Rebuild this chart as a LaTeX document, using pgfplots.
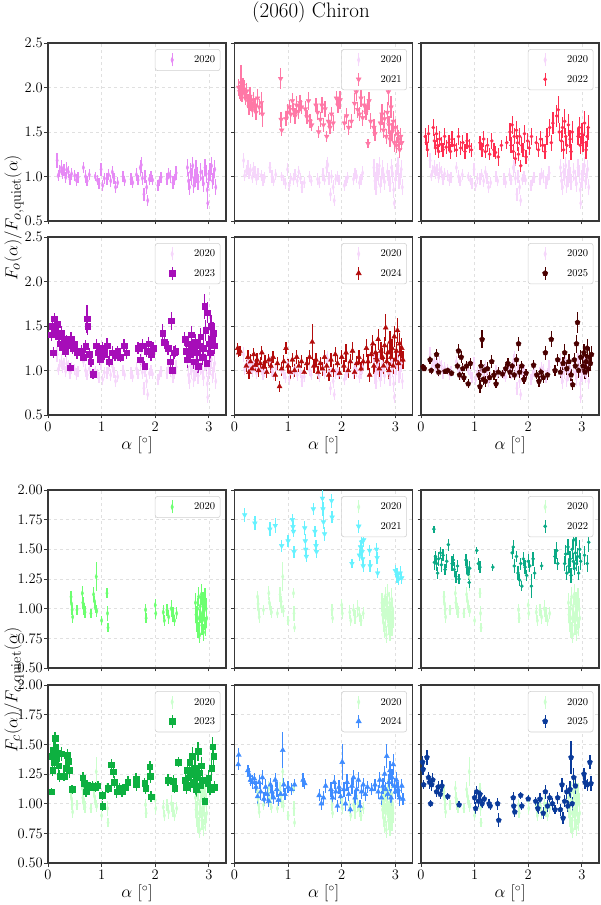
\documentclass[border=0pt]{standalone}
\usepackage{pgfplots}
\usepackage{pgfplotstable}
\pgfplotsset{compat=1.18}
\usetikzlibrary{plotmarks}
\pgfplotsset{error bars/draw error bar/.code 2 args={\draw[line width=1.3pt] #1 -- #2;}}

\definecolor{oa}{RGB}{230,137,245}
\definecolor{ob}{RGB}{255,120,166}
\definecolor{oc}{RGB}{255,45,80}
\definecolor{od}{RGB}{166,13,184}
\definecolor{oe}{RGB}{179,12,12}
\definecolor{of}{RGB}{74,0,0}
\definecolor{ca}{RGB}{108,255,112}
\definecolor{cb}{RGB}{102,242,255}
\definecolor{cc}{RGB}{10,170,133}
\definecolor{cd}{RGB}{13,176,64}
\definecolor{ce}{RGB}{63,140,255}
\definecolor{cf}{RGB}{10,58,154}
\colorlet{oaF}{oa!35!white}
\colorlet{caF}{ca!35!white}

\tikzset{
 sA/.style={mark=diamond*, mark size=2.9pt, mark options={xscale=0.55}},
 sB/.style={mark=triangle*, mark size=2.7pt, mark options={rotate=180}},
 sC/.style={mark=*, mark size=1.6pt},
 sD/.style={mark=square*, mark size=2.8pt},
 sE/.style={mark=triangle*, mark size=2.9pt},
 sF/.style={mark=pentagon*, mark size=2.7pt},
}

\pgfplotstableread{
x y e
0.17 1.18 0.08
0.19 1.01 0.06
0.22 1.06 0.07
0.25 1.10 0.08
0.27 1.03 0.06
0.30 1.07 0.07
0.33 0.99 0.06
0.35 1.08 0.08
0.38 1.05 0.07
0.41 0.97 0.06
0.44 1.03 0.07
0.50 1.01 0.06
0.53 0.96 0.07
0.56 0.99 0.06
0.66 1.10 0.06
0.70 1.00 0.07
0.73 0.95 0.06
0.77 1.02 0.06
0.88 1.00 0.05
0.92 0.96 0.06
0.95 0.92 0.06
0.99 1.08 0.07
1.02 0.90 0.06
1.05 0.98 0.06
1.10 0.97 0.07
1.13 1.02 0.06
1.17 0.95 0.07
1.20 1.05 0.07
1.23 0.98 0.06
1.26 0.88 0.07
1.30 0.93 0.06
1.40 1.00 0.06
1.43 0.95 0.06
1.55 0.97 0.07
1.58 0.93 0.06
1.65 1.02 0.07
1.68 0.96 0.06
1.72 1.10 0.09
1.74 1.13 0.09
1.76 0.98 0.07
1.79 0.80 0.07
1.81 1.00 0.07
1.84 0.88 0.08
1.86 0.73 0.06
1.89 0.97 0.06
1.92 1.00 0.06
1.95 0.96 0.06
2.05 0.90 0.06
2.08 0.95 0.06
2.11 0.99 0.06
2.22 0.97 0.07
2.25 1.03 0.06
2.28 1.00 0.07
2.33 0.93 0.07
2.36 0.97 0.06
2.39 1.04 0.08
2.60 1.10 0.10
2.62 0.95 0.10
2.64 0.88 0.09
2.66 1.05 0.10
2.68 1.00 0.09
2.70 1.12 0.10
2.72 0.90 0.09
2.74 0.98 0.10
2.76 1.08 0.10
2.78 1.02 0.09
2.80 0.94 0.09
2.85 1.05 0.10
2.88 0.98 0.09
2.90 0.92 0.09
2.93 1.10 0.10
2.95 1.03 0.10
2.97 0.85 0.09
2.98 0.70 0.06
3.00 0.97 0.10
3.02 1.05 0.10
3.05 1.12 0.10
3.07 0.95 0.09
3.09 1.00 0.10
3.11 1.08 0.10
3.13 0.88 0.09
}\oA

\pgfplotstableread{
x y e
0.08 2.00 0.10
0.10 1.95 0.08
0.12 2.05 0.20
0.14 1.92 0.08
0.16 2.02 0.09
0.18 1.98 0.10
0.20 1.88 0.08
0.23 1.96 0.09
0.25 1.85 0.08
0.27 1.78 0.09
0.29 1.90 0.10
0.31 1.82 0.08
0.33 1.75 0.08
0.35 1.86 0.09
0.38 1.80 0.08
0.40 1.72 0.09
0.43 1.88 0.10
0.46 1.78 0.09
0.50 1.83 0.12
0.52 1.70 0.14
0.86 2.10 0.12
0.87 1.64 0.08
0.88 1.52 0.06
0.96 1.65 0.08
0.99 1.72 0.09
1.02 1.78 0.08
1.05 1.70 0.10
1.08 1.85 0.09
1.10 1.75 0.08
1.13 1.68 0.09
1.16 1.80 0.10
1.19 1.73 0.08
1.22 1.83 0.09
1.25 1.78 0.08
1.32 1.76 0.09
1.35 1.67 0.08
1.38 1.85 0.10
1.41 1.62 0.08
1.44 1.58 0.07
1.52 1.80 0.08
1.55 1.72 0.09
1.57 1.50 0.07
1.60 1.64 0.08
1.63 1.80 0.09
1.66 1.58 0.08
1.69 1.76 0.09
1.72 1.45 0.06
1.75 1.62 0.08
1.78 1.55 0.07
1.81 1.70 0.08
1.84 1.60 0.09
1.90 1.88 0.08
1.93 1.80 0.09
1.97 1.86 0.10
2.05 1.60 0.08
2.09 1.68 0.09
2.13 1.55 0.08
2.18 1.62 0.08
2.24 1.82 0.12
2.27 1.95 0.10
2.30 1.75 0.09
2.33 1.70 0.08
2.36 1.88 0.10
2.39 1.66 0.09
2.42 1.80 0.10
2.45 1.72 0.08
2.48 1.78 0.09
2.51 1.85 0.10
2.54 1.62 0.09
2.49 1.37 0.05
2.60 1.55 0.10
2.62 1.48 0.08
2.72 1.60 0.10
2.75 1.70 0.12
2.78 1.52 0.09
2.80 1.65 0.10
2.83 1.45 0.08
2.85 1.72 0.12
2.87 1.95 0.15
2.88 1.58 0.10
2.90 1.42 0.09
2.92 1.78 0.12
2.94 1.50 0.10
2.96 1.62 0.12
2.98 1.38 0.10
3.00 1.55 0.10
3.02 1.35 0.09
3.04 1.48 0.10
3.06 1.42 0.10
3.08 1.30 0.09
3.10 1.45 0.10
3.12 1.38 0.08
}\oB

\pgfplotstableread{
x y e
0.08 1.45 0.10
0.10 1.38 0.09
0.12 1.30 0.08
0.14 1.48 0.10
0.23 1.55 0.10
0.25 1.40 0.08
0.27 1.32 0.08
0.29 1.48 0.09
0.31 1.35 0.08
0.33 1.28 0.07
0.35 1.42 0.09
0.38 1.36 0.08
0.41 1.30 0.08
0.44 1.45 0.10
0.47 1.33 0.08
0.52 1.38 0.09
0.55 1.28 0.08
0.58 1.42 0.09
0.62 1.35 0.08
0.66 1.30 0.08
0.70 1.45 0.10
0.74 1.32 0.08
0.78 1.38 0.09
0.82 1.28 0.08
0.86 1.40 0.09
0.90 1.34 0.08
0.94 1.30 0.08
1.10 1.38 0.08
1.14 1.30 0.08
1.17 1.42 0.09
1.20 1.28 0.07
1.24 1.35 0.08
1.28 1.25 0.07
1.32 1.40 0.09
1.36 1.30 0.08
1.39 1.27 0.07
1.44 1.22 0.10
1.50 1.35 0.06
1.60 1.38 0.07
1.66 1.50 0.10
1.68 1.35 0.09
1.70 1.58 0.10
1.72 1.28 0.08
1.74 1.45 0.09
1.76 1.20 0.08
1.78 1.52 0.10
1.80 1.38 0.09
1.82 1.25 0.08
1.84 1.45 0.10
1.86 1.12 0.07
1.88 1.35 0.09
1.90 1.30 0.08
1.93 1.48 0.10
1.96 1.22 0.08
1.99 1.40 0.09
2.02 1.32 0.08
2.06 1.45 0.10
2.15 1.38 0.08
2.19 1.30 0.08
2.23 1.42 0.09
2.27 1.35 0.08
2.31 1.28 0.08
2.35 1.45 0.10
2.40 1.55 0.10
2.43 1.38 0.09
2.46 1.60 0.12
2.53 1.68 0.12
2.56 1.75 0.15
2.58 1.50 0.10
2.62 1.40 0.12
2.64 1.55 0.12
2.66 1.30 0.10
2.68 1.62 0.14
2.70 1.45 0.10
2.72 1.35 0.10
2.75 1.58 0.12
2.78 1.42 0.10
2.80 1.28 0.09
2.82 1.50 0.12
2.93 1.45 0.10
2.95 1.55 0.12
2.97 1.35 0.10
3.00 1.48 0.12
3.02 1.38 0.10
3.05 1.60 0.14
3.08 1.30 0.10
3.10 1.45 0.12
3.12 1.55 0.14
}\oC

\pgfplotstableread{
x y e
0.06 1.40 0.07
0.08 1.50 0.08
0.10 1.20 0.06
0.12 1.58 0.07
0.14 1.45 0.08
0.17 1.52 0.07
0.19 1.38 0.08
0.22 1.30 0.07
0.25 1.42 0.08
0.27 1.26 0.07
0.30 1.35 0.08
0.32 1.22 0.07
0.35 1.32 0.08
0.38 1.28 0.07
0.41 1.03 0.05
0.43 1.35 0.08
0.46 1.25 0.07
0.50 1.30 0.08
0.54 1.20 0.07
0.62 1.22 0.07
0.66 1.15 0.06
0.70 1.27 0.07
0.73 1.58 0.16
0.74 1.50 0.10
0.77 1.18 0.07
0.80 1.10 0.06
0.84 0.96 0.06
0.90 1.28 0.07
0.93 1.20 0.06
0.97 1.12 0.06
1.01 1.25 0.07
1.05 1.18 0.06
1.10 1.28 0.08
1.14 1.10 0.06
1.20 1.20 0.07
1.25 1.17 0.06
1.30 1.22 0.06
1.35 1.15 0.06
1.42 1.28 0.07
1.47 1.20 0.07
1.68 1.25 0.07
1.72 1.12 0.06
1.76 1.28 0.07
1.80 1.05 0.06
1.84 1.22 0.07
1.88 1.30 0.08
1.92 1.18 0.07
1.96 1.25 0.07
2.14 1.42 0.10
2.17 1.32 0.08
2.24 1.25 0.08
2.28 1.10 0.07
2.30 1.56 0.10
2.32 1.00 0.06
2.35 1.20 0.07
2.38 1.22 0.07
2.55 1.35 0.08
2.58 1.22 0.09
2.60 1.12 0.09
2.62 1.30 0.08
2.65 1.18 0.09
2.67 1.40 0.10
2.70 1.25 0.09
2.72 1.10 0.08
2.75 1.32 0.09
2.78 1.20 0.10
2.80 1.05 0.08
2.82 1.28 0.09
2.85 1.38 0.10
2.88 1.15 0.09
2.90 1.25 0.10
2.92 1.72 0.14
2.94 1.45 0.12
2.96 1.08 0.09
2.98 1.65 0.12
3.00 1.30 0.10
3.02 1.20 0.10
3.04 1.50 0.12
3.06 1.35 0.10
3.08 1.42 0.12
3.10 1.28 0.10
}\oD

\pgfplotstableread{
x y e
0.06 1.25 0.06
0.08 1.20 0.05
0.10 1.22 0.06
0.22 1.05 0.07
0.25 1.15 0.08
0.27 0.98 0.07
0.30 1.10 0.08
0.33 1.02 0.06
0.36 1.18 0.07
0.39 1.06 0.07
0.42 1.12 0.08
0.45 1.00 0.07
0.48 1.08 0.07
0.51 1.20 0.08
0.54 1.04 0.07
0.57 1.10 0.07
0.60 0.98 0.06
0.64 1.12 0.07
0.68 1.05 0.08
0.72 1.15 0.07
0.76 0.95 0.07
0.80 1.08 0.07
0.84 0.82 0.06
0.88 1.02 0.08
0.92 1.10 0.07
0.96 1.25 0.07
1.00 1.05 0.08
1.04 0.98 0.07
1.08 1.12 0.08
1.12 1.00 0.07
1.16 1.15 0.08
1.20 1.05 0.07
1.25 1.10 0.07
1.30 0.98 0.06
1.35 1.08 0.07
1.40 1.15 0.08
1.45 1.32 0.20
1.48 1.05 0.08
1.52 1.12 0.08
1.56 0.98 0.07
1.60 1.08 0.07
1.64 1.02 0.08
1.68 1.15 0.08
1.72 1.05 0.08
1.76 0.95 0.07
1.80 1.12 0.08
1.84 1.00 0.07
1.88 1.18 0.08
1.92 1.08 0.08
1.96 0.97 0.07
2.00 1.15 0.08
2.04 1.05 0.07
2.08 1.20 0.10
2.12 1.00 0.08
2.16 1.10 0.08
2.20 1.22 0.10
2.24 0.98 0.07
2.28 1.08 0.08
2.32 1.15 0.08
2.36 1.02 0.07
2.40 1.10 0.08
2.46 1.25 0.10
2.49 1.10 0.09
2.52 0.95 0.08
2.55 1.18 0.10
2.58 1.30 0.10
2.60 1.05 0.09
2.63 1.20 0.10
2.66 1.12 0.09
2.68 1.35 0.12
2.70 1.02 0.09
2.73 1.22 0.10
2.76 1.15 0.10
2.78 1.05 0.09
2.80 1.28 0.10
2.82 1.48 0.15
2.84 1.10 0.09
2.86 1.20 0.10
2.88 1.00 0.09
2.90 1.32 0.12
2.92 1.15 0.10
2.94 1.25 0.10
2.96 1.05 0.09
2.98 1.38 0.12
3.00 1.12 0.10
3.02 1.22 0.10
3.04 1.45 0.14
3.06 1.08 0.09
3.08 1.30 0.12
3.10 1.18 0.10
3.12 1.25 0.11
3.14 1.12 0.10
}\oE

\pgfplotstableread{
x y e
0.04 1.04 0.03
0.06 1.02 0.03
0.17 1.12 0.05
0.19 1.00 0.04
0.29 1.18 0.06
0.31 1.05 0.05
0.33 0.98 0.04
0.45 0.99 0.03
0.50 1.00 0.04
0.57 0.97 0.03
0.68 1.05 0.05
0.70 1.22 0.08
0.72 0.95 0.06
0.75 1.15 0.07
0.78 1.02 0.06
0.80 0.92 0.05
0.85 1.05 0.06
0.88 0.85 0.05
0.92 1.08 0.06
1.08 0.95 0.06
1.10 0.82 0.07
1.12 1.05 0.07
1.14 1.35 0.10
1.16 0.90 0.06
1.18 1.00 0.07
1.20 0.88 0.06
1.24 1.02 0.07
1.28 0.92 0.06
1.32 1.10 0.07
1.36 0.95 0.06
1.40 0.85 0.05
1.44 0.98 0.06
1.52 0.96 0.04
1.58 1.02 0.05
1.62 1.08 0.06
1.66 0.98 0.06
1.70 1.05 0.06
1.74 0.95 0.06
1.78 1.12 0.07
1.82 1.30 0.08
1.84 0.98 0.06
1.88 1.05 0.06
1.92 0.90 0.05
1.96 0.97 0.05
2.10 1.06 0.06
2.16 0.95 0.05
2.20 0.88 0.06
2.24 0.98 0.05
2.28 0.92 0.06
2.32 1.20 0.08
2.36 0.95 0.06
2.43 1.35 0.09
2.50 1.00 0.06
2.55 1.12 0.07
2.60 0.98 0.06
2.65 1.08 0.07
2.68 1.20 0.10
2.72 1.02 0.07
2.76 1.10 0.08
2.80 0.95 0.07
2.83 0.84 0.06
2.86 1.12 0.08
2.88 1.05 0.07
2.90 1.30 0.10
2.92 1.54 0.12
2.94 1.00 0.08
2.98 1.15 0.08
3.02 1.05 0.09
3.04 1.20 0.10
3.06 0.98 0.08
3.08 1.10 0.09
3.10 1.25 0.10
3.12 1.02 0.09
3.14 1.15 0.10
3.16 1.08 0.09
3.18 1.18 0.10
}\oF

\pgfplotstableread{
x y e
0.43 1.10 0.05
0.44 1.04 0.05
0.45 0.99 0.04
0.46 0.93 0.05
0.54 0.99 0.04
0.64 1.13 0.06
0.65 1.05 0.05
0.67 1.00 0.05
0.69 0.97 0.05
0.80 0.96 0.04
0.85 1.12 0.06
0.87 1.06 0.05
0.88 1.01 0.05
0.90 1.27 0.12
0.91 0.98 0.05
1.00 0.90 0.04
1.10 1.13 0.04
1.11 0.96 0.06
1.12 0.84 0.04
1.82 0.99 0.05
1.83 0.92 0.04
2.00 1.03 0.05
2.01 0.96 0.05
2.15 0.97 0.06
2.17 0.90 0.05
2.22 0.99 0.05
2.25 0.93 0.06
2.30 1.00 0.07
2.33 0.95 0.06
2.36 0.90 0.05
2.40 0.96 0.05
2.75 1.05 0.08
2.76 0.95 0.07
2.78 0.88 0.08
2.79 1.00 0.09
2.80 0.82 0.07
2.81 1.10 0.08
2.82 0.92 0.08
2.83 0.78 0.07
2.84 1.02 0.09
2.85 0.96 0.08
2.86 1.12 0.09
2.87 0.86 0.08
2.88 0.94 0.08
2.89 1.05 0.09
2.90 0.80 0.07
2.91 0.98 0.08
2.92 0.90 0.08
2.93 1.08 0.09
2.94 0.85 0.08
2.95 1.00 0.09
2.96 0.92 0.08
}\cA

\pgfplotstableread{
x y e
0.19 1.79 0.06
0.38 1.72 0.06
0.66 1.67 0.06
0.76 1.70 0.06
0.88 1.53 0.05
1.00 1.57 0.05
1.08 1.75 0.05
1.09 1.69 0.05
1.10 1.65 0.05
1.11 1.48 0.05
1.31 1.68 0.06
1.32 1.57 0.06
1.33 1.50 0.05
1.34 1.44 0.05
1.47 1.84 0.05
1.50 1.65 0.05
1.52 1.53 0.05
1.53 1.48 0.05
1.64 1.93 0.07
1.65 1.84 0.06
1.66 1.73 0.06
1.68 1.63 0.06
1.81 1.91 0.06
1.82 1.77 0.05
2.19 1.38 0.04
2.33 1.45 0.05
2.35 1.52 0.06
2.37 1.56 0.05
2.38 1.48 0.05
2.39 1.42 0.05
2.40 1.36 0.05
2.41 1.58 0.06
2.52 1.49 0.05
2.53 1.36 0.05
2.65 1.50 0.05
2.66 1.43 0.05
2.67 1.30 0.04
3.00 1.32 0.05
3.03 1.28 0.06
3.06 1.25 0.05
3.09 1.30 0.06
3.12 1.26 0.05
}\cB

\pgfplotstableread{
x y e
0.24 1.67 0.03
0.25 1.39 0.06
0.27 1.44 0.05
0.29 1.38 0.06
0.31 1.30 0.05
0.33 1.42 0.06
0.36 1.47 0.05
0.38 1.37 0.06
0.41 1.45 0.05
0.45 1.33 0.05
0.48 1.40 0.06
0.51 1.54 0.05
0.58 1.38 0.06
0.60 1.41 0.05
0.62 1.33 0.06
0.65 1.27 0.05
0.68 1.36 0.05
0.71 1.25 0.04
0.84 1.41 0.05
0.86 1.35 0.06
0.88 1.29 0.05
0.90 1.22 0.05
0.91 1.34 0.06
1.04 1.49 0.03
1.07 1.38 0.05
1.10 1.35 0.05
1.34 1.35 0.03
1.70 1.47 0.05
1.72 1.52 0.06
1.74 1.36 0.06
1.78 1.44 0.05
1.81 1.30 0.06
1.84 1.24 0.05
1.86 1.38 0.05
1.88 1.19 0.04
1.91 1.42 0.06
1.94 1.35 0.06
1.97 1.28 0.05
2.00 1.40 0.06
2.03 1.36 0.05
2.06 1.19 0.10
2.09 1.42 0.06
2.12 1.30 0.05
2.25 1.36 0.03
2.50 1.44 0.06
2.53 1.49 0.07
2.55 1.38 0.05
2.68 1.38 0.06
2.70 1.46 0.08
2.72 1.30 0.06
2.74 1.52 0.07
2.76 1.36 0.06
2.78 1.42 0.07
2.80 1.28 0.06
2.82 1.50 0.08
2.84 1.40 0.07
2.85 1.58 0.08
2.86 1.34 0.06
2.88 1.47 0.07
2.89 1.62 0.09
2.90 1.38 0.06
2.92 1.44 0.07
2.94 1.30 0.06
2.96 1.50 0.08
2.98 1.40 0.07
3.05 1.45 0.08
3.10 1.38 0.07
3.13 1.56 0.08
}\cC

\pgfplotstableread{
x y e
0.07 1.10 0.03
0.08 1.40 0.06
0.09 1.28 0.05
0.10 1.45 0.07
0.12 1.35 0.06
0.13 1.55 0.05
0.14 1.48 0.06
0.16 1.38 0.05
0.18 1.43 0.06
0.20 1.32 0.06
0.22 1.23 0.05
0.25 1.42 0.06
0.30 1.23 0.04
0.34 1.30 0.06
0.36 1.41 0.05
0.38 1.36 0.06
0.40 1.28 0.06
0.45 1.12 0.04
0.65 1.22 0.05
0.67 1.17 0.05
0.71 1.10 0.04
0.74 1.16 0.04
0.78 1.14 0.04
0.83 1.15 0.04
0.88 1.14 0.04
0.93 1.15 0.04
1.01 1.07 0.04
1.02 0.98 0.04
1.12 1.13 0.04
1.18 1.33 0.05
1.22 1.27 0.05
1.24 1.18 0.05
1.28 1.10 0.05
1.33 1.13 0.04
1.38 1.10 0.04
1.44 1.14 0.04
1.49 1.18 0.05
1.64 1.21 0.05
1.65 1.16 0.05
1.80 1.17 0.05
1.82 1.13 0.05
1.90 1.31 0.05
1.91 1.23 0.06
1.92 1.06 0.05
2.24 1.20 0.05
2.34 1.19 0.05
2.36 1.13 0.04
2.43 1.35 0.04
2.56 1.20 0.06
2.58 1.14 0.06
2.60 1.28 0.07
2.62 1.22 0.06
2.64 1.35 0.08
2.66 1.16 0.06
2.68 1.25 0.07
2.70 1.40 0.08
2.72 1.18 0.06
2.74 1.30 0.07
2.76 1.12 0.06
2.78 1.22 0.07
2.80 1.44 0.08
2.82 1.26 0.07
2.84 1.15 0.06
2.86 1.32 0.07
2.88 1.20 0.06
2.92 1.02 0.04
2.98 1.17 0.05
3.00 1.22 0.06
3.02 1.12 0.05
3.05 1.30 0.07
3.07 1.48 0.08
3.09 1.40 0.07
3.10 1.14 0.05
}\cD

\pgfplotstableread{
x y e
0.07 1.33 0.05
0.08 1.41 0.06
0.25 1.28 0.05
0.28 1.24 0.06
0.30 1.20 0.05
0.33 1.18 0.06
0.37 1.21 0.05
0.40 1.14 0.05
0.43 1.06 0.06
0.46 1.18 0.06
0.49 1.10 0.07
0.52 1.22 0.06
0.55 1.04 0.06
0.58 1.14 0.07
0.61 1.08 0.06
0.64 1.02 0.05
0.67 1.16 0.06
0.70 1.10 0.06
0.73 1.05 0.05
0.76 1.20 0.06
0.79 1.12 0.06
0.82 1.03 0.05
0.86 1.08 0.06
0.90 1.45 0.15
0.92 1.16 0.06
0.94 1.08 0.05
1.00 1.14 0.05
1.06 1.12 0.05
1.12 1.16 0.05
1.28 1.20 0.06
1.31 1.17 0.05
1.58 1.07 0.05
1.62 1.00 0.05
1.66 1.05 0.06
1.70 1.15 0.06
1.80 1.12 0.06
1.83 1.05 0.06
1.86 1.18 0.06
1.89 1.10 0.07
1.92 0.98 0.05
1.95 1.14 0.06
1.98 1.06 0.06
2.01 1.35 0.15
2.04 1.12 0.06
2.07 1.00 0.06
2.10 1.18 0.07
2.13 1.08 0.06
2.16 0.95 0.05
2.19 1.15 0.07
2.22 1.22 0.06
2.25 1.05 0.06
2.28 1.12 0.06
2.31 1.20 0.07
2.34 0.98 0.05
2.37 1.10 0.06
2.40 1.16 0.06
2.44 1.08 0.06
2.48 1.14 0.05
2.56 1.12 0.05
2.62 1.16 0.05
2.68 1.10 0.06
2.71 1.20 0.07
2.74 1.05 0.06
2.77 1.15 0.07
2.80 1.25 0.07
2.82 1.12 0.06
2.84 1.40 0.10
2.86 1.08 0.06
2.88 1.18 0.07
2.90 1.28 0.08
2.92 1.05 0.07
2.94 1.22 0.07
2.96 1.33 0.09
2.98 1.15 0.07
3.00 1.10 0.06
3.02 1.20 0.07
3.05 1.12 0.06
3.08 1.05 0.07
3.12 1.15 0.06
3.14 1.04 0.05
}\cE

\pgfplotstableread{
x y e
0.03 1.35 0.05
0.04 1.29 0.05
0.05 1.16 0.04
0.11 1.39 0.06
0.14 1.22 0.05
0.16 1.18 0.06
0.18 1.00 0.03
0.20 1.16 0.05
0.22 1.20 0.06
0.29 1.10 0.04
0.32 1.14 0.05
0.36 1.08 0.04
0.39 1.15 0.05
0.50 1.06 0.03
0.71 0.99 0.03
1.00 1.05 0.05
1.02 0.96 0.05
1.04 1.10 0.05
1.07 1.02 0.05
1.10 1.08 0.05
1.14 1.00 0.04
1.18 1.04 0.03
1.27 1.00 0.04
1.29 0.98 0.03
1.43 1.00 0.05
1.45 0.86 0.06
1.72 1.05 0.05
1.73 0.98 0.05
1.75 0.93 0.04
1.86 1.07 0.03
1.88 0.98 0.03
2.00 1.04 0.03
2.14 1.02 0.04
2.18 0.96 0.05
2.22 1.04 0.05
2.28 0.92 0.05
2.32 1.10 0.06
2.36 0.98 0.05
2.40 1.05 0.04
2.45 1.00 0.05
2.50 0.95 0.04
2.55 1.05 0.05
2.60 0.95 0.05
2.63 1.16 0.06
2.65 0.88 0.05
2.68 1.02 0.05
2.72 1.10 0.06
2.74 0.98 0.05
2.78 1.12 0.07
2.80 1.39 0.14
2.82 1.00 0.06
2.85 1.22 0.08
2.88 1.15 0.07
3.04 1.25 0.05
3.06 1.18 0.06
3.10 1.16 0.05
3.15 1.35 0.06
3.17 1.17 0.06
}\cF

% #1 table, #2 colour, #3 marker style
\newcommand{\ser}[3]{%
\addplot[forget plot, only marks, color=#2, #3,
  error bars/y dir=both, error bars/y explicit]
  table[x index=0, y index=1, y error index=2] {#1};}
% #1 colour, #2 marker style, #3 label
\newcommand{\leg}[3]{%
\addlegendimage{legend image code/.code={%
  \path[draw=none, fill=none] (0pt,-6.5pt) (34pt,6.5pt);
  \draw[#1, line width=1.3pt, rounded corners=0pt] (15pt,-6.5pt) -- (15pt,6.5pt);
  \draw[#1] plot[only marks, #2] coordinates {(15pt,0pt)};}}
\addlegendentry{#3}}

\pgfplotsset{
 pan/.style={scale only axis, width=178pt, height=178pt, anchor=south west,
  xmin=0, xmax=3.32, xtick={0,1,2,3}, xticklabels={}, yticklabels={},
  grid=major, grid style={dashed, black!12, line width=0.5pt},
  axis line style={black!78, line width=1.1pt},
  tick pos=left, tick align=outside, major tick length=3.5pt,
  tick style={black!78, line width=0.8pt},
  ticklabel style={font=\fontsize{14.5}{14.5}\selectfont},
  yticklabel style={inner xsep=1.5pt},
  legend style={at={(0.969,0.966)}, anchor=north east, draw=black!18, line width=0.6pt,
   rounded corners=2.5pt, fill=white,
   font=\fontsize{10.5}{12}\selectfont, inner xsep=2pt, inner ysep=3.5pt, row sep=5pt,
   nodes={inner xsep=3pt, inner ysep=1pt, text height=7pt, text depth=1pt}},
  legend cell align=left},
 tb/.style={ymin=0.5, ymax=2.5, ytick={0.5,1,1.5,2,2.5}},
 bb/.style={ymin=0.5, ymax=2.0, ytick={0.5,0.75,1,1.25,1.5,1.75,2}},
 ylt/.style={yticklabels={0.5,1.0,1.5,2.0,2.5}},
 ylb/.style={yticklabels={0.50,0.75,1.00,1.25,1.50,1.75,2.00}},
 xl/.style={xticklabels={0,1,2,3}, xlabel={$\alpha$ [$^\circ$]},
  every axis x label/.style={at={(axis description cs:0.5,-0.17)}, anchor=center,
   font=\fontsize{17}{17}\selectfont}},
}

\begin{document}
\begin{tikzpicture}
\useasboundingbox (0,0) rectangle (600pt,905pt);

\node[font=\fontsize{21}{21}\selectfont] at (311pt,893pt) {(2060) Chiron};
\node[rotate=90, font=\fontsize{19}{19}\selectfont] at (14pt,687pt) {$F_o(\alpha)/F_{o,\mathrm{quiet}}(\alpha)$};
\node[rotate=90, font=\fontsize{19}{19}\selectfont] at (14pt,215pt) {$F_c(\alpha)/F_{c,\mathrm{quiet}}(\alpha)$};

% ---------- o band ----------
\begin{axis}[pan, tb, ylt, at={(48pt,684pt)}]
\ser{\oA}{oa}{sA}
\leg{oa}{sA}{2020}
\end{axis}
\begin{axis}[pan, tb, at={(234.5pt,684pt)}]
\ser{\oA}{oaF}{sA}
\ser{\oB}{ob}{sB}
\leg{oaF}{sA}{2020}
\leg{ob}{sB}{2021}
\end{axis}
\begin{axis}[pan, tb, at={(421pt,684pt)}]
\ser{\oA}{oaF}{sA}
\ser{\oC}{oc}{sC}
\leg{oaF}{sA}{2020}
\leg{oc}{sC}{2022}
\end{axis}

\begin{axis}[pan, tb, ylt, xl, at={(48pt,490pt)}]
\ser{\oA}{oaF}{sA}
\ser{\oD}{od}{sD}
\leg{oaF}{sA}{2020}
\leg{od}{sD}{2023}
\end{axis}
\begin{axis}[pan, tb, xl, at={(234.5pt,490pt)}]
\ser{\oA}{oaF}{sA}
\ser{\oE}{oe}{sE}
\leg{oaF}{sA}{2020}
\leg{oe}{sE}{2024}
\end{axis}
\begin{axis}[pan, tb, xl, at={(421pt,490pt)}]
\ser{\oA}{oaF}{sA}
\ser{\oF}{of}{sF}
\leg{oaF}{sA}{2020}
\leg{of}{sF}{2025}
\end{axis}

% ---------- c band ----------
\begin{axis}[pan, bb, ylb, at={(48pt,237pt)}]
\ser{\cA}{ca}{sA}
\leg{ca}{sA}{2020}
\end{axis}
\begin{axis}[pan, bb, at={(234.5pt,237pt)}]
\ser{\cA}{caF}{sA}
\ser{\cB}{cb}{sB}
\leg{caF}{sA}{2020}
\leg{cb}{sB}{2021}
\end{axis}
\begin{axis}[pan, bb, at={(421pt,237pt)}]
\ser{\cA}{caF}{sA}
\ser{\cC}{cc}{sC}
\leg{caF}{sA}{2020}
\leg{cc}{sC}{2022}
\end{axis}

\begin{axis}[pan, bb, ylb, xl, at={(48pt,42pt)}]
\ser{\cA}{caF}{sA}
\ser{\cD}{cd}{sD}
\leg{caF}{sA}{2020}
\leg{cd}{sD}{2023}
\end{axis}
\begin{axis}[pan, bb, xl, at={(234.5pt,42pt)}]
\ser{\cA}{caF}{sA}
\ser{\cE}{ce}{sE}
\leg{caF}{sA}{2020}
\leg{ce}{sE}{2024}
\end{axis}
\begin{axis}[pan, bb, xl, at={(421pt,42pt)}]
\ser{\cA}{caF}{sA}
\ser{\cF}{cf}{sF}
\leg{caF}{sA}{2020}
\leg{cf}{sF}{2025}
\end{axis}
\end{tikzpicture}
\end{document}
